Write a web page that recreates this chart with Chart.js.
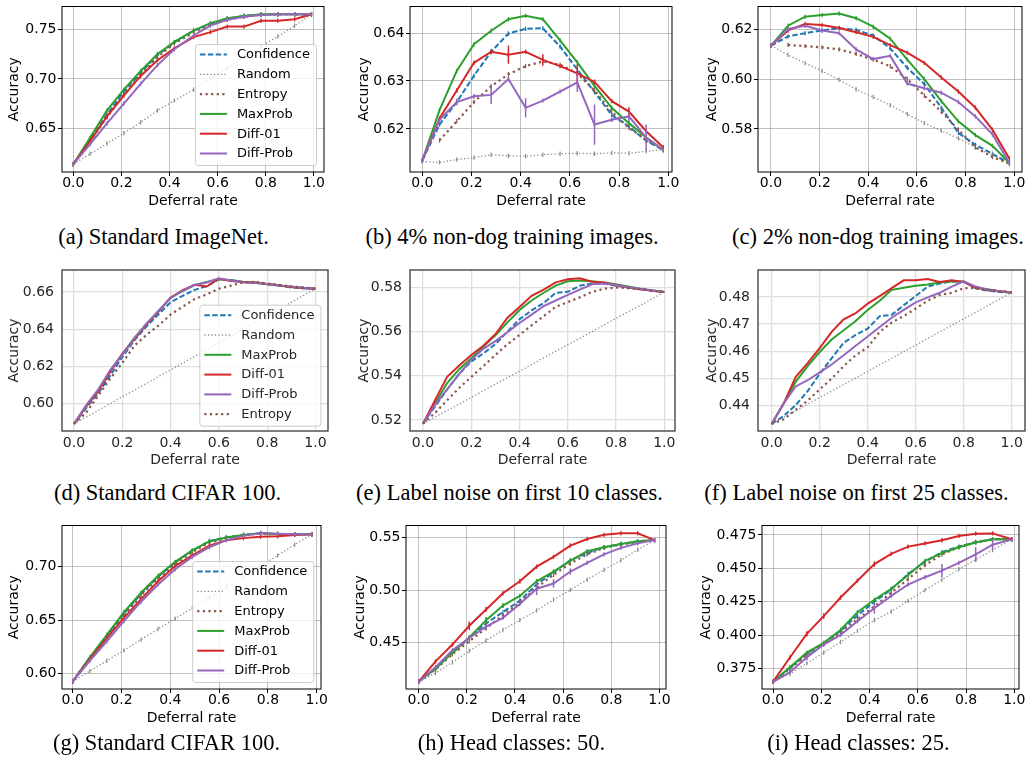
<!DOCTYPE html>
<html>
<head>
<meta charset="utf-8">
<script src="https://cdn.jsdelivr.net/npm/chart.js@4.4.1/dist/chart.umd.min.js"></script>
<style>
  body { margin: 0; background: #fff; width: 1026px; height: 767px; position: relative; overflow: hidden; }
  canvas { position: absolute; }
  .cap { position: absolute; font-family: "Liberation Serif", "Times New Roman", serif; font-size: 22.5px;
         white-space: nowrap; transform: translate(-50%, -50%); color: #000; }
</style>
</head>
<body>
<script>
// ---- tick labels ----
const xTickLabels = ['0.0', '0.2', '0.4', '0.6', '0.8', '1.0'];
const aYTicks = ['0.65', '0.70', '0.75'];
const bYTicks = ['0.62', '0.63', '0.64'];
const cYTicks = ['0.58', '0.60', '0.62'];
const dYTicks = ['0.60', '0.62', '0.64', '0.66'];
const eYTicks = ['0.52', '0.54', '0.56', '0.58'];
const fYTicks = ['0.44', '0.45', '0.46', '0.47', '0.48'];
const gYTicks = ['0.60', '0.65', '0.70'];
const hYTicks = ['0.45', '0.50', '0.55'];
const iYTicks = ['0.375', '0.400', '0.425', '0.450', '0.475'];

// ---- deferral rates ----
const xsA = [0, 0.07, 0.14, 0.21, 0.28, 0.35, 0.42, 0.50, 0.57, 0.64, 0.71, 0.78, 0.85, 0.92, 0.99];
const xs7 = [0, 0.07, 0.14, 0.21, 0.28, 0.35, 0.42, 0.49, 0.56, 0.63, 0.70, 0.77, 0.84, 0.91, 0.98];
const xsI = [0, 0.07, 0.14, 0.21, 0.28, 0.35, 0.42, 0.49, 0.56, 0.63, 0.70, 0.77, 0.84, 0.91, 0.99];
const xs05 = [0, 0.05, 0.10, 0.15, 0.20, 0.25, 0.30, 0.35, 0.40, 0.45, 0.50,
              0.55, 0.60, 0.65, 0.70, 0.75, 0.80, 0.85, 0.90, 0.95, 1.0];

// (a) Standard ImageNet
const aConf     = [0.6135, 0.638, 0.664, 0.687, 0.706, 0.724, 0.737, 0.749, 0.756, 0.761, 0.764, 0.765, 0.7655, 0.7655, 0.7655];
const aRand     = [0.6135, 0.624, 0.6345, 0.645, 0.656, 0.668, 0.678, 0.689, 0.700, 0.711, 0.722, 0.733, 0.743, 0.754, 0.7655];
const aEnt      = [0.6135, 0.637, 0.661, 0.684, 0.704, 0.722, 0.736, 0.747, 0.755, 0.760, 0.763, 0.765, 0.7655, 0.7655, 0.7655];
const aMax      = [0.6135, 0.6405, 0.668, 0.689, 0.708, 0.7253, 0.7375, 0.749, 0.7566, 0.7615, 0.7638, 0.7655, 0.7655, 0.7655, 0.7655];
const aDiff01   = [0.6135, 0.637, 0.662, 0.683, 0.703, 0.719, 0.731, 0.7424, 0.7474, 0.753, 0.753, 0.759, 0.759, 0.7605, 0.7655];
const aDiffProb = [0.6135, 0.634, 0.655, 0.675, 0.695, 0.714, 0.730, 0.744, 0.754, 0.760, 0.763, 0.7648, 0.7655, 0.7655, 0.7655];

// (b) 4% non-dog
const bConf     = [0.6134, 0.6209, 0.6256, 0.6311, 0.6361, 0.6399, 0.6409, 0.641, 0.6372, 0.6324, 0.6277, 0.6229, 0.6205, 0.6175, 0.6156];
const bRand     = [0.6132, 0.6130, 0.6136, 0.6140, 0.6146, 0.6144, 0.6143, 0.6146, 0.6148, 0.6149, 0.6148, 0.6150, 0.6149, 0.6153, 0.6157];
const bEnt      = [null, 0.6176, 0.6216, 0.6256, 0.6289, 0.6314, 0.6331, 0.6341, 0.6334, 0.6316, 0.628, 0.6236, 0.6202, 0.6178, 0.6156];
const bMax      = [0.6134, 0.6239, 0.6321, 0.6377, 0.6405, 0.6429, 0.6436, 0.6429, 0.6385, 0.6339, 0.629, 0.6244, 0.6212, 0.6182, 0.6156];
const bDiff01   = [0.6134, 0.6222, 0.628, 0.6338, 0.6361, 0.6355, 0.6361, 0.6344, 0.6331, 0.6316, 0.6298, 0.6258, 0.6236, 0.6195, 0.6161];
const bDiffProb = [0.6134, 0.6219, 0.6256, 0.6268, 0.6271, 0.6304, 0.6244, 0.6259, 0.6278, 0.6297, 0.6209, 0.6219, 0.6226, 0.6182, 0.6156];
const bErrDiff01   = [0, 0.0003, 0.0004, 0.0003, 0.0005, 0.0019, 0.0003, 0.0012, 0.0003, 0.0019, 0.0005, 0.0003, 0.0009, 0.0003, 0];
const bErrDiffProb = [0, 0.0003, 0.0007, 0.0004, 0.0019, 0.0005, 0.002, 0, 0, 0.002, 0.0042, 0.0004, 0.001, 0.0027, 0];

// (c) 2% non-dog
const cConf     = [0.6134, 0.6171, 0.6184, 0.6195, 0.6204, 0.6197, 0.6175, 0.6123, 0.6045, 0.598, 0.5885, 0.5784, 0.5736, 0.570, 0.5663];
const cRand     = [0.6134, 0.6097, 0.6064, 0.6032, 0.5997, 0.5958, 0.5928, 0.5895, 0.5859, 0.5823, 0.5793, 0.5762, 0.5726, 0.5693, 0.5661];
const cEnt      = [null, 0.6137, 0.6132, 0.6127, 0.6119, 0.6101, 0.6078, 0.6051, 0.600, 0.5934, 0.5869, 0.5797, 0.5726, 0.5687, 0.5661];
const cMax      = [0.6134, 0.6214, 0.6250, 0.6257, 0.6263, 0.6244, 0.621, 0.6162, 0.6078, 0.600, 0.5911, 0.583, 0.5775, 0.5732, 0.5663];
const cDiff01   = [0.6134, 0.6195, 0.6221, 0.6217, 0.6205, 0.6188, 0.6169, 0.6136, 0.6106, 0.6065, 0.6006, 0.595, 0.5885, 0.5797, 0.568];
const cDiffProb = [0.6134, 0.6201, 0.6214, 0.6195, 0.6184, 0.6119, 0.608, 0.6093, 0.5982, 0.5963, 0.5945, 0.5908, 0.585, 0.5778, 0.5663];

// (d) Standard CIFAR 100
const dConf     = [0.589, 0.5975, 0.6055, 0.615, 0.625, 0.634, 0.6415, 0.648, 0.6545, 0.658, 0.6612, 0.6632, 0.6668, 0.6665, 0.6655, 0.665, 0.6642, 0.6635, 0.6625, 0.662, 0.6618];
const dRand     = [0.589, 0.5926, 0.5963, 0.5999, 0.6036, 0.6072, 0.6108, 0.6145, 0.6181, 0.6218, 0.6254, 0.629, 0.6327, 0.6363, 0.64, 0.6436, 0.6472, 0.6509, 0.6545, 0.6582, 0.6618];
const dMax      = [0.589, 0.5983, 0.6067, 0.6176, 0.6266, 0.6353, 0.6429, 0.6496, 0.6571, 0.6605, 0.6639, 0.6655, 0.6669, 0.6664, 0.6655, 0.6652, 0.6642, 0.6635, 0.6627, 0.6622, 0.6618];
const dDiff01   = [0.589, 0.5985, 0.6065, 0.617, 0.6268, 0.6345, 0.6425, 0.6495, 0.657, 0.661, 0.664, 0.663, 0.6672, 0.666, 0.6655, 0.6652, 0.6643, 0.6635, 0.6628, 0.6622, 0.6618];
const dDiffProb = [0.589, 0.599, 0.6075, 0.618, 0.6262, 0.635, 0.643, 0.65, 0.6568, 0.6608, 0.6638, 0.6652, 0.6674, 0.6662, 0.6652, 0.665, 0.6643, 0.6636, 0.663, 0.6624, 0.6618];
const dEnt      = [0.589, 0.595, 0.6042, 0.6134, 0.6218, 0.6311, 0.637, 0.642, 0.6479, 0.6521, 0.6563, 0.6588, 0.6618, 0.6635, 0.6652, 0.6655, 0.6647, 0.6639, 0.663, 0.6625, 0.6618];

// (e) label noise, first 10 classes
const eConf     = [0.5183, 0.5261, 0.5338, 0.5409, 0.5465, 0.5501, 0.5543, 0.56, 0.5656, 0.5696, 0.5729, 0.5776, 0.578, 0.5808, 0.5818, 0.5818, 0.5808, 0.58, 0.5792, 0.5785, 0.5779];
const eRand     = [0.5183, 0.5213, 0.5243, 0.5272, 0.5302, 0.5332, 0.5362, 0.5392, 0.5421, 0.5451, 0.5481, 0.5511, 0.5541, 0.557, 0.56, 0.563, 0.566, 0.569, 0.5719, 0.5749, 0.5779];
const eMax      = [0.5183, 0.5275, 0.5367, 0.543, 0.548, 0.5532, 0.5583, 0.5642, 0.5698, 0.5741, 0.5776, 0.5808, 0.5828, 0.5832, 0.5828, 0.5823, 0.5814, 0.5804, 0.5794, 0.5786, 0.5779];
const eDiff01   = [0.5183, 0.5289, 0.5395, 0.5447, 0.5494, 0.5536, 0.5588, 0.5663, 0.5712, 0.5762, 0.579, 0.5823, 0.5837, 0.5842, 0.5826, 0.5822, 0.581, 0.58, 0.5792, 0.5785, 0.5779];
const eDiffProb = [0.5183, 0.5268, 0.5338, 0.5409, 0.5472, 0.5522, 0.5557, 0.5597, 0.5639, 0.5677, 0.5715, 0.5741, 0.5766, 0.579, 0.5814, 0.5818, 0.5811, 0.5801, 0.5794, 0.5786, 0.5779];
const eEnt      = [0.5183, 0.5232, 0.5289, 0.5345, 0.5395, 0.5444, 0.5494, 0.5543, 0.5585, 0.5628, 0.567, 0.5712, 0.5734, 0.5755, 0.578, 0.5794, 0.58, 0.5797, 0.5792, 0.5786, 0.5779];

// (f) label noise, first 25 classes
const fConf     = [0.4332, 0.4361, 0.4401, 0.4453, 0.4516, 0.4574, 0.4631, 0.466, 0.4683, 0.4729, 0.4734, 0.4769, 0.4803, 0.4838, 0.4849, 0.4857, 0.4855, 0.4832, 0.4823, 0.4818, 0.4816];
const fRand     = [0.4332, 0.4356, 0.438, 0.4405, 0.4429, 0.4453, 0.4477, 0.4501, 0.4526, 0.455, 0.4574, 0.4598, 0.4622, 0.4647, 0.4671, 0.4695, 0.4719, 0.4743, 0.4768, 0.4792, 0.4816];
const fMax      = [0.4332, 0.4407, 0.4487, 0.4545, 0.4597, 0.4643, 0.4677, 0.4711, 0.4752, 0.4786, 0.4826, 0.4834, 0.4841, 0.4846, 0.4853, 0.4857, 0.4857, 0.4834, 0.4828, 0.4821, 0.4816];
const fDiff01   = [0.4332, 0.4407, 0.4505, 0.4556, 0.4611, 0.4671, 0.4717, 0.474, 0.4775, 0.4803, 0.4832, 0.4861, 0.4861, 0.4866, 0.4855, 0.4861, 0.4855, 0.4834, 0.4826, 0.4821, 0.4816];
const fDiffProb = [0.4332, 0.4407, 0.447, 0.4493, 0.4522, 0.4551, 0.4585, 0.462, 0.4654, 0.4689, 0.4723, 0.4752, 0.478, 0.4798, 0.4815, 0.4838, 0.4857, 0.4838, 0.4826, 0.4821, 0.4816];
const fEnt      = [0.4332, 0.4349, 0.4384, 0.4418, 0.4459, 0.4499, 0.4545, 0.4585, 0.4614, 0.4671, 0.4706, 0.4729, 0.4757, 0.4786, 0.4807, 0.4815, 0.4832, 0.4832, 0.4825, 0.4821, 0.4816];

// (g) Standard CIFAR 100
const gConf     = [0.5927, 0.615, 0.6355, 0.656, 0.6745, 0.6905, 0.704, 0.715, 0.724, 0.7275, 0.7298, 0.7312, 0.7305, 0.7303, 0.7303];
const gRand     = [0.5927, 0.6024, 0.6121, 0.6218, 0.6318, 0.6418, 0.6515, 0.6612, 0.6712, 0.6812, 0.6909, 0.7006, 0.7106, 0.7206, 0.7303];
const gEnt      = [0.5927, 0.6145, 0.6345, 0.6545, 0.673, 0.689, 0.7025, 0.7135, 0.7225, 0.7268, 0.7295, 0.731, 0.7305, 0.7303, 0.7303];
const gMax      = [0.5927, 0.6152, 0.6364, 0.6576, 0.6758, 0.6915, 0.7045, 0.7152, 0.7236, 0.7273, 0.7297, 0.7315, 0.7303, 0.7303, 0.7303];
const gDiff01   = [0.5927, 0.6136, 0.6333, 0.6521, 0.6697, 0.6864, 0.7006, 0.7106, 0.7197, 0.7248, 0.7267, 0.7279, 0.7285, 0.7297, 0.7303];
const gDiffProb = [0.5927, 0.6121, 0.6303, 0.6491, 0.6673, 0.6833, 0.6976, 0.7091, 0.7182, 0.7248, 0.7288, 0.7315, 0.7309, 0.7303, 0.7303];

// (h) head classes: 50
const hConf     = [0.4127, 0.4255, 0.44, 0.4545, 0.4682, 0.479, 0.4898, 0.5052, 0.5167, 0.5284, 0.5352, 0.5407, 0.5438, 0.5463, 0.5475];
const hRand     = [0.4127, 0.421, 0.4312, 0.442, 0.4519, 0.462, 0.4713, 0.4806, 0.4907, 0.5, 0.5099, 0.5191, 0.5284, 0.5383, 0.5475];
const hEnt      = [0.4127, 0.4245, 0.4389, 0.4512, 0.4636, 0.4759, 0.4883, 0.5022, 0.5145, 0.5253, 0.534, 0.5401, 0.5432, 0.5457, 0.5475];
const hMax      = [0.4127, 0.425, 0.4404, 0.4549, 0.4713, 0.4852, 0.4944, 0.5083, 0.5176, 0.5278, 0.537, 0.5407, 0.5438, 0.5463, 0.5475];
const hDiff01   = [0.4127, 0.4321, 0.4481, 0.466, 0.4815, 0.4969, 0.5083, 0.5222, 0.5315, 0.5423, 0.5485, 0.5525, 0.554, 0.554, 0.5475];
const hDiffProb = [0.4127, 0.4265, 0.4426, 0.4543, 0.4651, 0.4735, 0.4867, 0.5012, 0.5062, 0.5176, 0.5259, 0.534, 0.5401, 0.5444, 0.5475];
const hErrMax      = [0, 0.001, 0.001, 0.001, 0.003, 0.002, 0.001, 0.002, 0.001, 0.001, 0.001, 0, 0, 0, 0];
const hErrDiff01   = [0, 0.001, 0.001, 0.004, 0.002, 0.001, 0.002, 0.001, 0.001, 0.001, 0.0005, 0.0005, 0.0005, 0.0005, 0];
const hErrDiffProb = [0, 0.001, 0.001, 0.001, 0.003, 0.001, 0.001, 0.006, 0.004, 0.003, 0.001, 0.001, 0.001, 0.001, 0];

// (i) head classes: 25
const iConf     = [0.365, 0.3755, 0.3857, 0.394, 0.4032, 0.4148, 0.425, 0.4342, 0.4459, 0.4549, 0.4621, 0.4663, 0.4697, 0.4718, 0.4718];
const iRand     = [0.365, 0.3711, 0.3789, 0.3869, 0.3949, 0.4032, 0.4112, 0.4177, 0.4257, 0.4337, 0.4415, 0.4493, 0.4566, 0.4638, 0.4718];
const iEnt      = [0.365, 0.375, 0.385, 0.393, 0.4022, 0.4119, 0.4216, 0.4318, 0.442, 0.4524, 0.4604, 0.4658, 0.4694, 0.4718, 0.4718];
const iMax      = [0.365, 0.376, 0.3869, 0.3942, 0.4039, 0.4172, 0.4265, 0.4347, 0.4451, 0.4556, 0.4614, 0.4658, 0.4694, 0.4718, 0.4718];
const iDiff01   = [0.365, 0.3833, 0.401, 0.4143, 0.4282, 0.4408, 0.4532, 0.4609, 0.4663, 0.4687, 0.4711, 0.4743, 0.476, 0.4762, 0.4718];
const iDiffProb = [0.365, 0.3723, 0.3833, 0.393, 0.4002, 0.4104, 0.4201, 0.4294, 0.4379, 0.4434, 0.4483, 0.4541, 0.4604, 0.4677, 0.4718];
const iErrDiff01   = [0, 0.001, 0.002, 0.002, 0.001, 0.001, 0.002, 0.001, 0.001, 0.001, 0.001, 0.001, 0.001, 0.001, 0];
const iErrDiffProb = [0, 0.001, 0.002, 0.001, 0.001, 0.001, 0.004, 0.001, 0.001, 0.001, 0.005, 0.001, 0.0055, 0.004, 0];

// ---- looks ----
const looks = {
    'Confidence': { color: '#1f77b4', width: 2,   dash: [5.5, 2.4] },
    'Random':     { color: '#8c8c8c', width: 1.3, dash: [1.3, 2.2] },
    'Entropy':    { color: '#8c564b', width: 2.2, dash: [2.2, 3.4] },
    'MaxProb':    { color: '#2ca02c', width: 2,   dash: [] },
    'Diff-01':    { color: '#d62728', width: 2,   dash: [] },
    'Diff-Prob':  { color: '#9467bd', width: 2,   dash: [] }
};
const themes = {
    mpl: { text: '#000000', grid: '#b0b0b0', gridW: 0.8, frame: '#000000', frameW: 1,   ticks: true },
    sns: { text: '#262626', grid: '#dedede', gridW: 1.3, frame: '#3a3a3a', frameW: 1.3, ticks: false }
};
const FONT = '"DejaVu Sans", Verdana, sans-serif';
const L = 66, T = 4, R = 14, B = 42;

const panels = [
    { frame: [62, 2, 324, 172], xr: [-0.047, 1.042], yr: [0.6056, 0.7734], yTicks: aYTicks, theme: 'mpl', ttl: 48,
      legend: { dx: 8, dy: 7 },
      series: [['Confidence', xsA, aConf], ['Random', xsA, aRand], ['Entropy', xsA, aEnt],
               ['MaxProb', xsA, aMax], ['Diff-01', xsA, aDiff01], ['Diff-Prob', xsA, aDiffProb]],
      caption: '(a) Standard ImageNet.', cap: [163.5, 237] },
    { frame: [410, 2, 672, 172], xr: [-0.050, 1.015], yr: [0.61100, 0.64555], yTicks: bYTicks, theme: 'mpl', ttl: 46,
      series: [['Confidence', xs7, bConf], ['Random', xs7, bRand], ['Entropy', xs7, bEnt],
               ['MaxProb', xs7, bMax], ['Diff-01', xs7, bDiff01, bErrDiff01], ['Diff-Prob', xs7, bDiffProb, bErrDiffProb]],
      caption: '(b) 4% non-dog training images.', cap: [512, 237] },
    { frame: [758, 2, 1022, 172], xr: [-0.0534, 1.0316], yr: [0.5627, 0.6291], yTicks: cYTicks, theme: 'mpl', ttl: 45.5,
      series: [['Confidence', xs7, cConf], ['Random', xs7, cRand], ['Entropy', xs7, cEnt],
               ['MaxProb', xs7, cMax], ['Diff-01', xs7, cDiff01], ['Diff-Prob', xs7, cDiffProb]],
      caption: '(c) 2% non-dog training images.', cap: [878, 237] },
    { frame: [62, 259, 328, 431], xr: [-0.0497, 1.052], yr: [0.5852, 0.6719], yTicks: dYTicks, theme: 'sns', ttl: 48,
      legend: { dx: 7.6, dy: 5.3 },
      series: [['Confidence', xs05, dConf], ['Random', xs05, dRand], ['MaxProb', xs05, dMax],
               ['Diff-01', xs05, dDiff01], ['Diff-Prob', xs05, dDiffProb], ['Entropy', xs05, dEnt]],
      caption: '(d) Standard CIFAR 100.', cap: [167.5, 493] },
    { frame: [410, 259, 675, 431], xr: [-0.0539, 1.0443], yr: [0.5150, 0.5879], yTicks: eYTicks, theme: 'sns', ttl: 46,
      series: [['Confidence', xs05, eConf], ['Random', xs05, eRand], ['MaxProb', xs05, eMax],
               ['Diff-01', xs05, eDiff01], ['Diff-Prob', xs05, eDiffProb], ['Entropy', xs05, eEnt]],
      caption: '(e) Label noise on first 10 classes.', cap: [509.5, 493] },
    { frame: [758, 259, 1025, 431], xr: [-0.0568, 1.0552], yr: [0.4306, 0.4899], yTicks: fYTicks, theme: 'sns', ttl: 45.5,
      series: [['Confidence', xs05, fConf], ['Random', xs05, fRand], ['MaxProb', xs05, fMax],
               ['Diff-01', xs05, fDiff01], ['Diff-Prob', xs05, fDiffProb], ['Entropy', xs05, fEnt]],
      caption: '(f) Label noise on first 25 classes.', cap: [856.5, 493] },
    { frame: [62, 521, 321, 689], xr: [-0.0438, 1.0176], yr: [0.5857, 0.7385], yTicks: gYTicks, theme: 'mpl', ttl: 48,
      legend: { dx: 7.7, dy: 7 },
      series: [['Confidence', xs7, gConf], ['Random', xs7, gRand], ['Entropy', xs7, gEnt],
               ['MaxProb', xs7, gMax], ['Diff-01', xs7, gDiff01], ['Diff-Prob', xs7, gDiffProb]],
      caption: '(g) Standard CIFAR 100.', cap: [166.5, 743] },
    { frame: [406, 521, 666, 689], xr: [-0.0528, 1.0274], yr: [0.4058, 0.5614], yTicks: hYTicks, theme: 'mpl', ttl: 46,
      series: [['Confidence', xs7, hConf], ['Random', xs7, hRand], ['Entropy', xs7, hEnt],
               ['MaxProb', xs7, hMax, hErrMax], ['Diff-01', xs7, hDiff01, hErrDiff01], ['Diff-Prob', xs7, hDiffProb, hErrDiffProb]],
      caption: '(h) Head classes: 50.', cap: [511.5, 743] },
    { frame: [762, 521, 1019, 689], xr: [-0.0456, 1.0195], yr: [0.3597, 0.4821], yTicks: iYTicks, theme: 'mpl', ttl: 56,
      series: [['Confidence', xsI, iConf], ['Random', xsI, iRand], ['Entropy', xsI, iEnt],
               ['MaxProb', xsI, iMax], ['Diff-01', xsI, iDiff01, iErrDiff01], ['Diff-Prob', xsI, iDiffProb, iErrDiffProb]],
      caption: '(i) Head classes: 25.', cap: [858.5, 743] }
];

function drawLegend(chart, o) {
    const ctx = chart.ctx, a = chart.chartArea;
    const items = chart.data.datasets;
    const rowH = 19.8;
    ctx.save();
    ctx.font = '13px ' + FONT;
    const tw = Math.max(...items.map(d => ctx.measureText(d.label).width));
    const w = 42 + tw + 6, h = items.length * rowH + 2.2;
    const x0 = a.right - o.legend.dx - w, y0 = a.bottom - o.legend.dy - h;
    ctx.beginPath();
    ctx.roundRect(x0 + 0.5, y0 + 0.5, w, h, 3);
    ctx.fillStyle = 'rgba(255,255,255,0.8)';
    ctx.fill();
    ctx.strokeStyle = '#cccccc';
    ctx.lineWidth = 1;
    ctx.stroke();
    items.forEach((d, k) => {
        const cy = y0 + 10.5 + k * rowH;
        ctx.beginPath();
        ctx.setLineDash(d.borderDash || []);
        ctx.strokeStyle = d.borderColor;
        ctx.lineWidth = d.borderWidth;
        ctx.moveTo(x0 + 5, cy);
        ctx.lineTo(x0 + 32, cy);
        ctx.stroke();
        ctx.setLineDash([]);
        ctx.fillStyle = o.text;
        ctx.textBaseline = 'middle';
        ctx.textAlign = 'left';
        ctx.fillText(d.label, x0 + 42, cy + 0.5);
    });
    ctx.restore();
}

const framePlugin = {
    id: 'frame',
    afterDatasetsDraw(chart) {
        const ctx = chart.ctx, ys = chart.scales.y;
        chart.data.datasets.forEach((ds, di) => {
            if (!ds.errs) return;
            const meta = chart.getDatasetMeta(di);
            ctx.save();
            ctx.strokeStyle = ds.borderColor;
            ctx.lineWidth = 1.5;
            ds.errs.forEach((e, i) => {
                const pt = ds.data[i];
                if (!e || pt.y == null) return;
                const px = meta.data[i].x;
                ctx.beginPath();
                ctx.moveTo(px, ys.getPixelForValue(pt.y - e));
                ctx.lineTo(px, ys.getPixelForValue(pt.y + e));
                ctx.stroke();
            });
            ctx.restore();
        });
    },
    afterDraw(chart, args, o) {
        const a = chart.chartArea, ctx = chart.ctx;
        ctx.save();
        ctx.strokeStyle = o.color;
        ctx.lineWidth = o.width;
        ctx.strokeRect(a.left, a.top, a.right - a.left, a.bottom - a.top);
        ctx.restore();
        if (o.legend) drawLegend(chart, o);
    }
};

function makePanel(p) {
    const th = themes[p.theme];
    const W = p.frame[2] - p.frame[0] + L + R;
    const H = p.frame[3] - p.frame[1] + T + B;
    const cv = document.createElement('canvas');
    cv.width = W; cv.height = H;
    cv.style.left = (p.frame[0] - L) + 'px';
    cv.style.top = (p.frame[1] - T) + 'px';
    cv.style.width = W + 'px'; cv.style.height = H + 'px';
    document.body.appendChild(cv);

    const n = p.series.length;
    const datasets = p.series.map((s, i) => {
        const lk = looks[s[0]];
        return {
            label: s[0],
            data: s[1].map((x, k) => ({ x: x, y: s[2][k] })),
            errs: s[3],
            borderColor: lk.color,
            borderWidth: lk.width,
            borderDash: lk.dash,
            pointStyle: 'line',
            pointRotation: 90,
            pointRadius: th.ticks ? 2.2 : 0,
            pointBorderWidth: 1.2,
            fill: false,
            tension: 0,
            order: n - i
        };
    });

    const tickFont = { family: FONT, size: 14, lineHeight: 1 };
    const titleFont = { family: FONT, size: 14, lineHeight: 1.2 };
    const grid = { color: th.grid, lineWidth: th.gridW, drawTicks: th.ticks, tickLength: 4, tickColor: th.frame, tickWidth: 1 };

    new Chart(cv, {
        type: 'line',
        data: { datasets: datasets },
        options: {
            responsive: false,
            animation: false,
            events: [],
            devicePixelRatio: 1,
            layout: { padding: { left: 0, top: T, right: R, bottom: 0 } },
            scales: {
                x: {
                    type: 'linear', bounds: 'data', min: p.xr[0], max: p.xr[1],
                    afterBuildTicks: s => { s.ticks = xTickLabels.map(v => ({ value: parseFloat(v) })); },
                    afterFit: s => { s.height = B; },
                    ticks: { callback: (v, i) => xTickLabels[i], font: tickFont, color: th.text,
                             padding: th.ticks ? 0 : 5.3, maxRotation: 0, autoSkip: false },
                    grid: grid,
                    border: { display: false },
                    title: { display: true, text: 'Deferral rate', font: titleFont, color: th.text,
                             padding: { top: 0, bottom: 4.6 } }
                },
                y: {
                    type: 'linear', bounds: 'data', min: p.yr[0], max: p.yr[1],
                    afterBuildTicks: s => { s.ticks = p.yTicks.map(v => ({ value: parseFloat(v) })); },
                    afterFit: s => { s.width = L; },
                    ticks: { callback: (v, i) => p.yTicks[i], font: tickFont, color: th.text,
                             padding: th.ticks ? 1.5 : 8, autoSkip: false },
                    grid: grid,
                    border: { display: false },
                    title: { display: true, text: 'Accuracy', font: titleFont, color: th.text,
                             padding: { top: L - p.ttl - 8.4, bottom: 0 } }
                }
            },
            plugins: {
                legend: { display: false },
                tooltip: { enabled: false },
                frame: { color: th.frame, width: th.frameW, legend: p.legend, text: th.text }
            }
        },
        plugins: [framePlugin]
    });

    const cap = document.createElement('div');
    cap.className = 'cap';
    cap.textContent = p.caption;
    cap.style.left = p.cap[0] + 'px';
    cap.style.top = p.cap[1] + 'px';
    document.body.appendChild(cap);
}

panels.forEach(makePanel);
</script>
</body>
</html>
